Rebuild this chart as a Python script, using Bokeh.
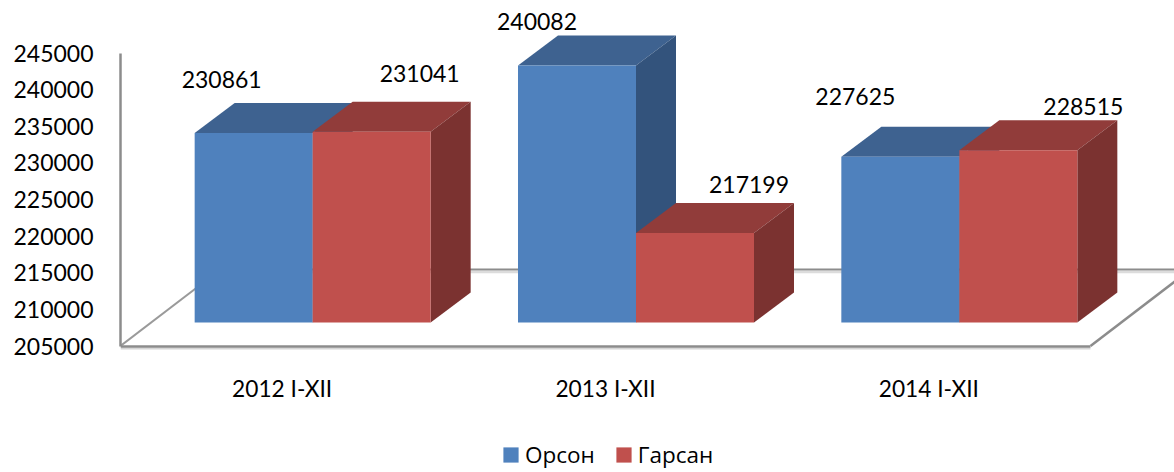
from bokeh.embed import file_html
from bokeh.resources import INLINE
from bokeh.models import (ColumnDataSource, FixedTicker, Legend, LegendItem, LinearAxis, Range1d, NumeralTickFormatter)
from bokeh.core.properties import value
from bokeh.plotting import figure

categories = ["2012 I-XII", "2013 I-XII", "2014 I-XII"]
orson = [230861, 240082, 227625]
garsan = [231041, 217199, 228515]
y_ticks = [205000, 210000, 215000, 220000, 225000, 230000, 235000, 240000, 245000]
y_base = 205000
series_names = ["Орсон", "Гарсан"]

# layout of the pseudo-3D projection
FONT = "Lato"
LEG_FONT = "Open Sans"
VAL_PER_PX = 136.6
UNIT_PER_PX = 1 / 323.33
px_x = lambda n: n * UNIT_PER_PX
px_y = lambda n: n * VAL_PER_PX
lift = px_y(23.6)
shift = px_x(30.5)
half = px_x(118)
dep_x, dep_y = px_x(40), px_y(30)
floor_x, floor_y = px_x(100), px_y(76.5)

p = figure(width=1174, height=472, output_backend="svg", toolbar_location=None,
           x_range=Range1d(-0.5, 2.5 + px_x(84)),
           y_range=Range1d(y_base - px_y(126.5), y_base + px_y(345.5)),
           x_axis_location=None, y_axis_location=None,
           min_border_left=120, min_border_right=0, min_border_top=0, min_border_bottom=0,
           outline_line_color=None, background_fill_color="white", border_fill_color="white")
p.xgrid.visible = False
p.ygrid.visible = False

yaxis = LinearAxis(ticker=FixedTicker(ticks=y_ticks), bounds=(y_ticks[0], y_ticks[-1]),
                   formatter=NumeralTickFormatter(format="0"))
yaxis.axis_line_color = "#8c8c8c"
yaxis.axis_line_width = 2.5
yaxis.major_tick_line_color = None
yaxis.minor_tick_line_color = None
yaxis.major_label_standoff = 21
yaxis.major_label_text_font = FONT
yaxis.major_label_text_font_size = "23px"
yaxis.major_label_text_color = "#000000"
p.add_layout(yaxis, "left")

xaxis = LinearAxis(ticker=FixedTicker(ticks=[0, 1, 2]), bounds=(-0.5, 2.5), fixed_location=y_base)
xaxis.major_label_overrides = {i: c for i, c in enumerate(categories)}
xaxis.axis_line_color = "#8c8c8c"
xaxis.axis_line_width = 2.5
xaxis.major_tick_line_color = None
xaxis.minor_tick_line_color = None
xaxis.major_label_standoff = 23
xaxis.major_label_text_font = FONT
xaxis.major_label_text_font_size = "22.7px"
xaxis.major_label_text_color = "#000000"
p.add_layout(xaxis, "below")

# floor: shadows then lines
sh = px_y(2.5)
p.line([-0.5, 2.5], [y_base - sh, y_base - sh], line_color="#d6d6d6", line_width=2)
back_y = y_base + floor_y
p.line([-0.5 + floor_x, 2.5 + floor_x], [back_y - sh, back_y - sh], line_color="#dcdcdc", line_width=2.5)
p.line([-0.5 + floor_x, 2.5 + floor_x], [back_y, back_y], line_color="#8c8c8c", line_width=2)
p.line([-0.5, -0.5 + floor_x], [y_base, back_y], line_color="#9a9a9a", line_width=2)
p.line([2.5, 2.5 + floor_x], [y_base, back_y], line_color="#8c8c8c", line_width=2.5)

colors = [("#4F81BD", "#3E6290", "#33537C"), ("#C0504D", "#913C3A", "#7B3230")]
front_rs = []
for s, vals in enumerate([orson, garsan]):
    front, top, side = colors[s]
    for i, v in enumerate(vals):
        x0 = i + shift - half + s * half
        x1 = x0 + half
        y0, y1 = y_base + lift, v + lift
        p.patch([x0, x1, x1 + dep_x, x0 + dep_x], [y1, y1, y1 + dep_y, y1 + dep_y],
                fill_color=top, line_color=None)
        p.patch([x1, x1 + dep_x, x1 + dep_x, x1], [y0, y0 + dep_y, y1 + dep_y, y1],
                fill_color=side, line_color=None)
    src = ColumnDataSource(dict(left=[i + shift - half + s * half for i in range(3)],
                                right=[i + shift + s * half for i in range(3)],
                                top=[v + lift for v in vals],
                                bottom=[y_base + lift] * 3))
    front_rs.append(p.quad(left="left", right="right", top="top", bottom="bottom", source=src,
                           fill_color=front, line_color=None))

# data labels: offsets from the bar's front-top centre, in screen pixels
label_dx = [[-32, -40, -45], [48, 54, 65]]
label_dy = [[54, 44, 60], [58, 49, 44]]
for s, vals in enumerate([orson, garsan]):
    src = ColumnDataSource(dict(x=[i + shift + (s - 0.5) * half for i in range(3)],
                                y=[v + lift for v in vals],
                                t=[str(v) for v in vals],
                                dx=label_dx[s], dy=[-d for d in label_dy[s]]))
    p.text(x="x", y="y", text="t", source=src, x_offset="dx", y_offset="dy",
           text_font=value(FONT), text_font_size="23px", text_color="#000000",
           text_align="center", text_baseline="middle")

legend = Legend(items=[LegendItem(label=series_names[k], renderers=[front_rs[k]]) for k in range(2)],
                orientation="horizontal", location=(381, 2), padding=0, margin=0, spacing=19,
                glyph_width=19, glyph_height=19, label_standoff=5,
                label_text_font=LEG_FONT, label_text_font_size="22.5px", label_text_color="#000000",
                border_line_color=None, background_fill_alpha=0, inactive_fill_alpha=0)
p.add_layout(legend, "center")

open("out.html", "w").write(file_html(p, INLINE))
